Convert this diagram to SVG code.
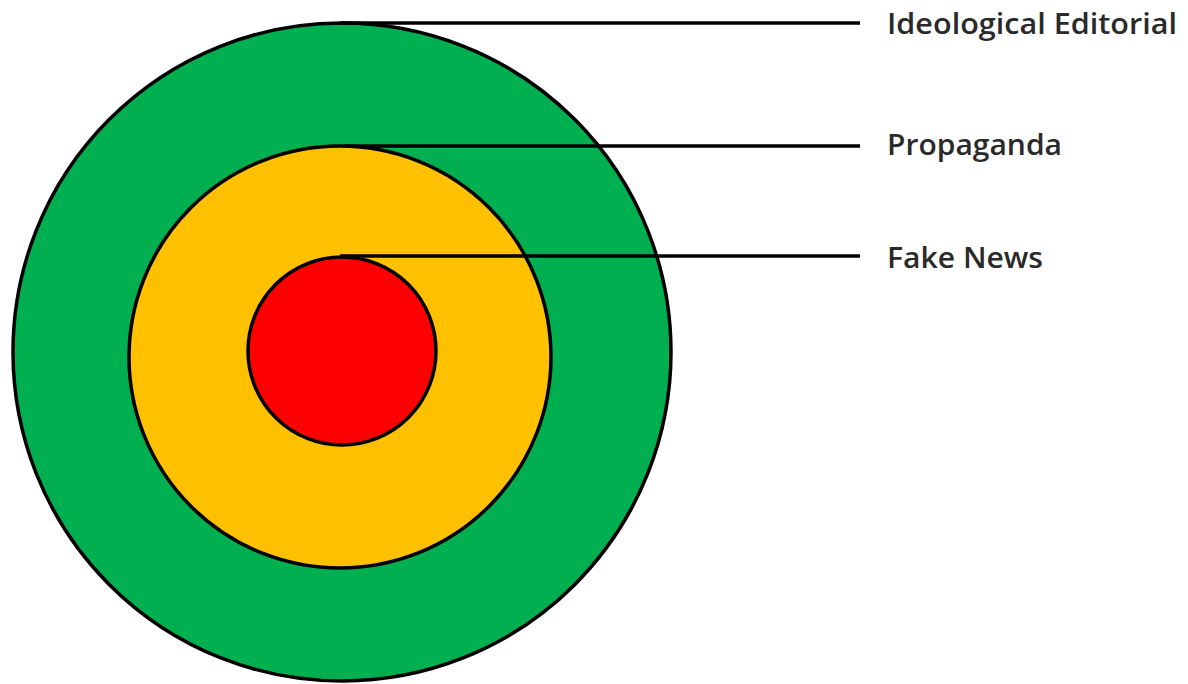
<svg xmlns="http://www.w3.org/2000/svg" width="1188" height="684" viewBox="0 0 1188 684">
<style>
.ring{stroke:#000;stroke-width:3.5}
.lbl{font-family:"Open Sans","Noto Sans",sans-serif;font-size:29px;font-weight:600;fill:#2a2a2a}
.conn{stroke:#000;stroke-width:3.5;fill:none}
</style>
<rect width="1188" height="684" fill="#fff"/>
<g id="ideological-editorial">
<circle class="ring" cx="342" cy="352" r="329" fill="#00B050"/>
</g>
<g id="propaganda">
<circle class="ring" cx="340" cy="357" r="211" fill="#FFC000"/>
</g>
<g id="fake-news">
<circle class="ring" cx="342" cy="351" r="94" fill="#FF0000"/>
</g>
<g id="connectors">
<line class="conn" x1="340" y1="23" x2="860" y2="23"/>
<line class="conn" x1="345" y1="146" x2="860" y2="146"/>
<line class="conn" x1="340" y1="256" x2="860" y2="256"/>
</g>
<g id="labels">
<text class="lbl" x="887" y="34" textLength="290" lengthAdjust="spacingAndGlyphs">Ideological Editorial</text>
<text class="lbl" x="887" y="155" textLength="175" lengthAdjust="spacingAndGlyphs">Propaganda</text>
<text class="lbl" x="887" y="268" textLength="156" lengthAdjust="spacingAndGlyphs">Fake News</text>
</g>
</svg>
